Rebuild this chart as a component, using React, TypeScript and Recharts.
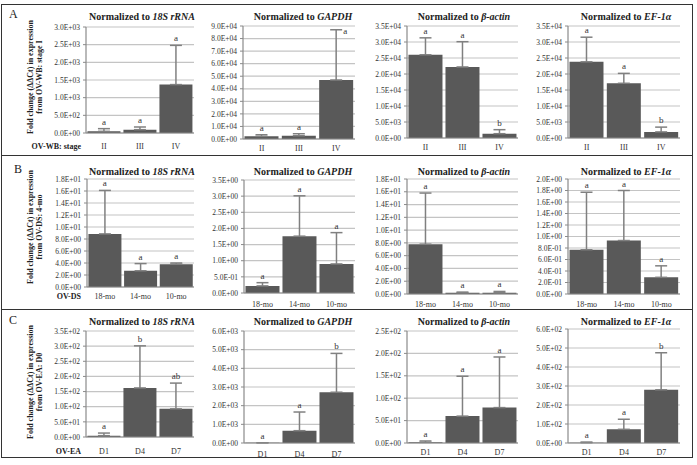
import React from "react";
import {
  ComposedChart,
  Bar,
  Line,
  XAxis,
  YAxis,
  CartesianGrid,
  ErrorBar,
  LabelList,
} from "recharts";

const font = '"Liberation Serif", "Times New Roman", serif';

const stages = ["II", "III", "IV"];
const ages = ["18-mo", "14-mo", "10-mo"];
const days = ["D1", "D4", "D7"];
const genes = ["18S rRNA", "GAPDH", "β-actin", "EF-1α"];

// Row A - OV-WB, relative to stage I
const wb18sMean = [47, 94, 1370];
const wb18sErr = [76, 76, 1110];
const wb18sLetters = ["a", "a", "a"];
const wbGapdhMean = [2100, 2600, 47000];
const wbGapdhErr = [1300, 1600, 40000];
const wbGapdhLetters = ["a", "a", "a"];
const wbActinMean = [26000, 22200, 1350];
const wbActinErr = [5300, 7900, 1250];
const wbActinLetters = ["a", "a", "b"];
const wbEf1Mean = [23800, 17100, 1900];
const wbEf1Err = [7700, 3100, 1500];
const wbEf1Letters = ["a", "a", "b"];

// Row B - OV-DS, relative to 4-mo
const ds18sMean = [8.85, 2.7, 3.8];
const ds18sErr = [7.25, 1.2, 0.2];
const ds18sLetters = ["a", "a", "a"];
const dsGapdhMean = [0.22, 1.76, 0.9];
const dsGapdhErr = [0.1, 1.25, 0.97];
const dsGapdhLetters = ["a", "a", "a"];
const dsActinMean = [7.8, 0.2, 0.2];
const dsActinErr = [8.0, 0.1, 0.2];
const dsActinLetters = ["a", "a", "a"];
const dsEf1Mean = [0.77, 0.93, 0.29];
const dsEf1Err = [1.0, 0.87, 0.2];
const dsEf1Letters = ["a", "a", "a"];

// Row C - OV-EA, relative to D0
const ea18sMean = [4.4, 162, 93];
const ea18sErr = [8.6, 139, 85];
const ea18sLetters = ["a", "b", "ab"];
const eaGapdhMean = [15, 660, 2720];
const eaGapdhErr = [0, 1000, 2080];
const eaGapdhLetters = ["a", "a", "b"];
const eaActinMean = [1.5, 60, 79];
const eaActinErr = [3, 89, 113];
const eaActinLetters = ["a", "a", "a"];
const eaEf1Mean = [1.8, 72, 280];
const eaEf1Err = [3, 53, 195];
const eaEf1Letters = ["a", "a", "b"];

// axis maximum and step for each panel, row by row
const axisMax = [3000, 90000, 35000, 35000, 18, 3.5, 18, 2, 350, 6000, 250, 600];
const axisStep = [500, 10000, 5000, 5000, 2, 0.5, 2, 0.2, 50, 1000, 50, 100];

const rowLabels = ["A", "B", "C"];
const groupLabels = ["OV-WB: stage", "OV-DS", "OV-EA"];
const yLabelLines = [
  ["Fold change (ΔΔCt) in expression", "from OV-WB: stage I"],
  ["Fold change (ΔΔCt) in expression", "from OV-DS: 4-mo"],
  ["Fold change (ΔΔCt) in expression", "from OV-EA: D0"],
];

const makeRows = (cats: string[], mean: number[], err: number[], letters: string[]) =>
  cats.map((c, i) => ({
    name: c,
    mean: mean[i],
    err: [0, err[i]],
    top: mean[i] + err[i],
    letter: letters[i],
  }));

const panelData = [
  makeRows(stages, wb18sMean, wb18sErr, wb18sLetters),
  makeRows(stages, wbGapdhMean, wbGapdhErr, wbGapdhLetters),
  makeRows(stages, wbActinMean, wbActinErr, wbActinLetters),
  makeRows(stages, wbEf1Mean, wbEf1Err, wbEf1Letters),
  makeRows(ages, ds18sMean, ds18sErr, ds18sLetters),
  makeRows(ages, dsGapdhMean, dsGapdhErr, dsGapdhLetters),
  makeRows(ages, dsActinMean, dsActinErr, dsActinLetters),
  makeRows(ages, dsEf1Mean, dsEf1Err, dsEf1Letters),
  makeRows(days, ea18sMean, ea18sErr, ea18sLetters),
  makeRows(days, eaGapdhMean, eaGapdhErr, eaGapdhLetters),
  makeRows(days, eaActinMean, eaActinErr, eaActinLetters),
  makeRows(days, eaEf1Mean, eaEf1Err, eaEf1Letters),
];

// plot boxes (left, right, top, bottom) and x label centre line
const boxes = [
  { l: 86, r: 194, t: 27, b: 133, ly: 146 },
  { l: 243, r: 355, t: 26, b: 139, ly: 148 },
  { l: 407, r: 518, t: 26, b: 138, ly: 147 },
  { l: 568, r: 680, t: 26, b: 138, ly: 147 },
  { l: 87, r: 194, t: 179, b: 287, ly: 296 },
  { l: 244, r: 355, t: 180, b: 293, ly: 304 },
  { l: 407, r: 518, t: 179, b: 294, ly: 304 },
  { l: 568, r: 680, t: 179, b: 294, ly: 304 },
  { l: 86, r: 194, t: 331, b: 437, ly: 451 },
  { l: 244, r: 355, t: 331, b: 443, ly: 454 },
  { l: 407, r: 518, t: 331, b: 443, ly: 452 },
  { l: 568, r: 680, t: 329, b: 443, ly: 452 },
];

const titleX = [142, 303, 464, 626];
const titleY = [16, 171, 321];
const yLabelY = [77, 227, 382];

const fmtSci = (v: number) => {
  if (v === 0) return "0.0E+00";
  let e = Math.floor(Math.log10(v) + 1e-9);
  let m = v / Math.pow(10, e);
  if (Number(m.toFixed(1)) >= 10) {
    e += 1;
    m = m / 10;
  }
  const sign = e < 0 ? "-" : "+";
  return m.toFixed(1) + "E" + sign + String(Math.abs(e)).padStart(2, "0");
};

const TOP_MARGIN = 12;
const Y_AXIS_W = 50;
const X_AXIS_H = 20;

const renderLetter = (props: any) => {
  const { x, y, value } = props;
  if (value == null) return null;
  const high = y < TOP_MARGIN + 8;
  return (
    <text
      x={high ? x + 9 : x}
      y={high ? y + 4 : y - 4}
      textAnchor="middle"
      fontSize={9}
      fontFamily={font}
      fill="#333"
    >
      {value}
    </text>
  );
};

const Panel = ({ idx }: { idx: number }) => {
  const box = boxes[idx];
  const max = axisMax[idx];
  const step = axisStep[idx];
  const ticks = Array.from({ length: Math.round(max / step) + 1 }, (_, i) => i * step);
  const width = box.r - box.l + Y_AXIS_W + 2;
  const height = box.b - box.t + TOP_MARGIN + X_AXIS_H;
  const dy = box.ly - box.b;

  const XTick = (p: any) => (
    <text
      x={p.x}
      y={p.y + dy}
      textAnchor="middle"
      dominantBaseline="central"
      fontSize={8}
      fontFamily={font}
      fill="#333"
    >
      {p.payload.value}
    </text>
  );

  return (
    <div
      style={{
        position: "absolute",
        left: box.l - Y_AXIS_W,
        top: box.t - TOP_MARGIN,
      }}
    >
      <ComposedChart
        width={width}
        height={height}
        data={panelData[idx]}
        margin={{ top: TOP_MARGIN, right: 2, bottom: 0, left: 0 }}
        barCategoryGap="4%"
      >
        <CartesianGrid vertical={false} stroke="#c4c4c4" strokeWidth={1.2} />
        <XAxis
          dataKey="name"
          height={X_AXIS_H}
          tickLine={false}
          tickSize={0}
          tickMargin={0}
          interval={0}
          axisLine={{ stroke: "#8a8a8a", strokeWidth: 1.2 }}
          tick={XTick}
        />
        <YAxis
          type="number"
          width={Y_AXIS_W}
          domain={[0, max]}
          ticks={ticks}
          interval={0}
          allowDataOverflow
          tickFormatter={fmtSci}
          tickSize={3}
          tickMargin={3}
          axisLine={{ stroke: "#8a8a8a", strokeWidth: 1.2 }}
          tickLine={{ stroke: "#8a8a8a" }}
          tick={{ fontSize: 7.5, fontFamily: font, fill: "#333" }}
        />
        <Bar dataKey="mean" fill="#595959" isAnimationActive={false}>
          <ErrorBar
            dataKey="err"
            direction="y"
            width={6}
            stroke="#808080"
            strokeWidth={1.5}
          />
        </Bar>
        <Line
          dataKey="top"
          stroke="none"
          dot={false}
          activeDot={false}
          isAnimationActive={false}
        >
          <LabelList dataKey="letter" content={renderLetter} />
        </Line>
      </ComposedChart>
    </div>
  );
};

const App = () => {
  return (
    <div
      style={{
        position: "relative",
        width: 697,
        height: 465,
        background: "#fff",
        fontFamily: font,
        color: "#222",
      }}
    >
      <style>{`body{margin:0}`}</style>
      <div
        style={{
          position: "absolute",
          left: 1,
          top: 4,
          width: 692,
          height: 454,
          border: "1.5px solid #333",
          boxSizing: "border-box",
        }}
      />
      <div style={{ position: "absolute", left: 1, top: 155, width: 692, height: 0, borderTop: "1.5px solid #333" }} />
      <div style={{ position: "absolute", left: 1, top: 309, width: 692, height: 0, borderTop: "1.5px solid #333" }} />

      {rowLabels.map((r, i) => (
        <div
          key={r}
          style={{
            position: "absolute",
            left: i === 1 ? 14 : 9,
            top: [7, 162, 313][i],
            fontSize: 12,
          }}
        >
          {r}
        </div>
      ))}

      {yLabelLines.map((lines, i) => (
        <div
          key={i}
          style={{
            position: "absolute",
            left: 35,
            top: yLabelY[i],
            width: 150,
            transform: "translate(-50%, -50%) rotate(-90deg)",
            textAlign: "center",
            fontSize: 8,
            fontWeight: "bold",
            lineHeight: "9px",
            whiteSpace: "nowrap",
          }}
        >
          {lines[0]}
          <br />
          {lines[1]}
        </div>
      ))}

      {groupLabels.map((g, i) => (
        <div
          key={g}
          style={{
            position: "absolute",
            right: 697 - 81,
            top: boxes[i * 4].ly,
            transform: "translateY(-50%)",
            fontSize: 8,
            fontWeight: "bold",
            whiteSpace: "nowrap",
          }}
        >
          {g}
        </div>
      ))}

      {titleY.map((ty, row) =>
        genes.map((g, col) => (
          <div
            key={row + "-" + col}
            style={{
              position: "absolute",
              left: titleX[col],
              top: ty,
              transform: "translate(-50%, -50%)",
              fontSize: 10,
              fontWeight: "bold",
              whiteSpace: "nowrap",
            }}
          >
            Normalized to <i>{g}</i>
          </div>
        ))
      )}

      {boxes.map((_, i) => (
        <Panel key={i} idx={i} />
      ))}
    </div>
  );
};

export default App;
